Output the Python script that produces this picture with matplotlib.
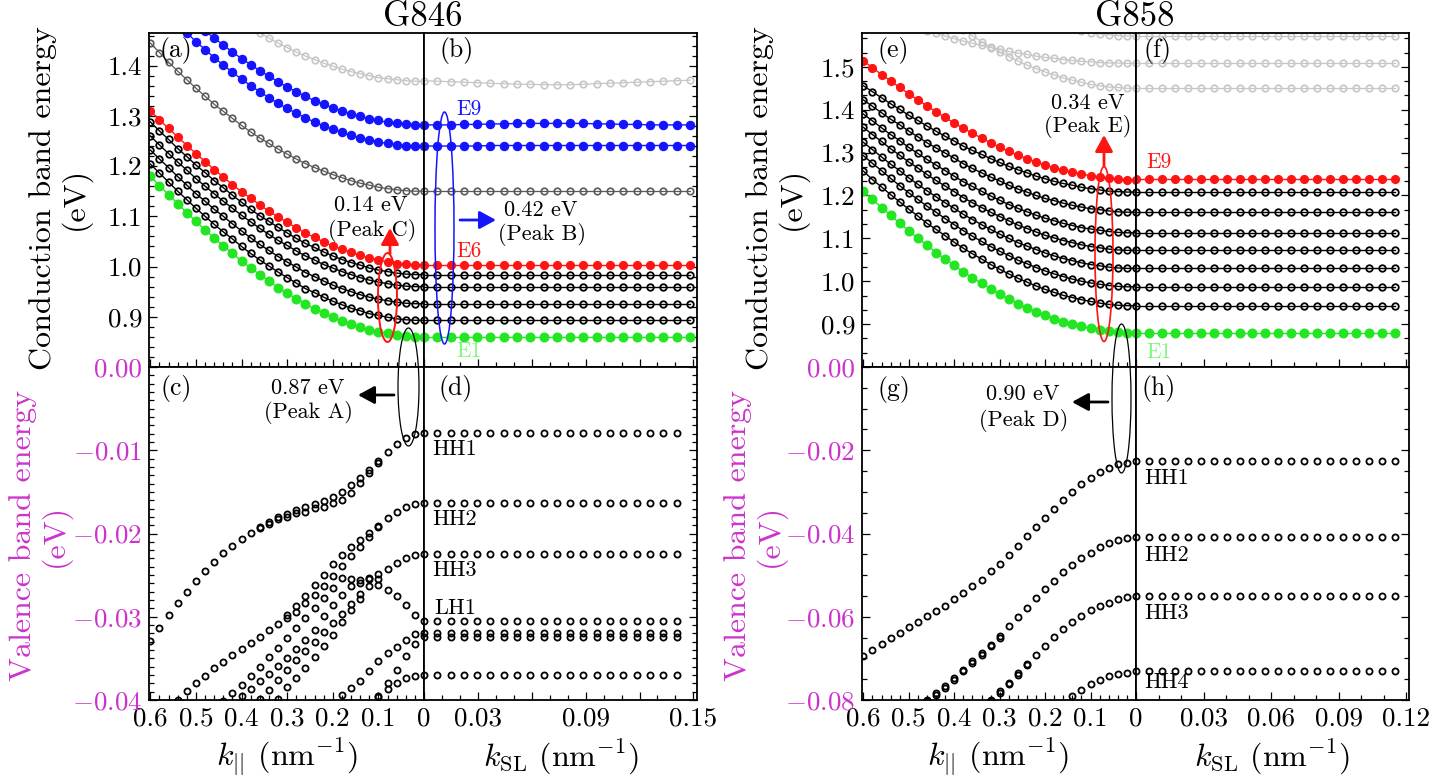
import matplotlib
matplotlib.use('Agg')
import matplotlib.pyplot as plt
from matplotlib.patches import Ellipse, FancyArrowPatch
from matplotlib.ticker import FixedLocator, MultipleLocator

nan = float('nan')
plt.rcParams['font.family'] = 'serif'
plt.rcParams['font.serif'] = ['cmr10']
plt.rcParams['mathtext.fontset'] = 'cm'
plt.rcParams['axes.unicode_minus'] = False

# ---------------- k grids ----------------
k_par = [0.00, 0.02, 0.04, 0.06, 0.08, 0.10, 0.12, 0.14, 0.16, 0.18, 0.20, 0.22, 0.24, 0.26, 0.28, 0.30,
         0.32, 0.34, 0.36, 0.38, 0.40, 0.42, 0.44, 0.46, 0.48, 0.50, 0.52, 0.54, 0.56, 0.58, 0.60]
k_sl_846 = [0.0, 0.0074, 0.0148, 0.0222, 0.0296, 0.037, 0.0444, 0.0518, 0.0592, 0.0666, 0.074, 0.0814,
            0.0888, 0.0962, 0.1036, 0.111, 0.1184, 0.1258, 0.1332, 0.1406, 0.148]
k_sl_846v = k_sl_846[:20]
k_sl_858 = [0.0, 0.00575, 0.0115, 0.01725, 0.023, 0.02875, 0.0345, 0.04025, 0.046, 0.05175, 0.0575,
            0.06325, 0.069, 0.07475, 0.0805, 0.08625, 0.092, 0.09775, 0.1035, 0.10925, 0.115]

# ---------------- G846 conduction, k_par ----------------
a_E1 = [0.860, 0.860, 0.861, 0.863, 0.867, 0.870, 0.874, 0.879, 0.885, 0.892, 0.899, 0.907, 0.916, 0.925, 0.936, 0.947,
        0.958, 0.971, 0.984, 0.997, 1.011, 1.026, 1.041, 1.057, 1.073, 1.090, 1.107, 1.125, 1.143, 1.161, 1.180]
a_E2 = [0.893, 0.893, 0.894, 0.896, 0.899, 0.903, 0.906, 0.912, 0.917, 0.924, 0.931, 0.939, 0.948, 0.956, 0.967, 0.978,
        0.989, 1.001, 1.013, 1.026, 1.040, 1.055, 1.069, 1.084, 1.100, 1.116, 1.133, 1.150, 1.168, 1.186, 1.204]
a_E3 = [0.926, 0.926, 0.927, 0.929, 0.932, 0.935, 0.939, 0.944, 0.950, 0.956, 0.963, 0.971, 0.980, 0.988, 0.999, 1.009,
        1.020, 1.032, 1.044, 1.057, 1.071, 1.085, 1.100, 1.114, 1.130, 1.145, 1.162, 1.179, 1.197, 1.214, 1.232]
a_E4 = [0.960, 0.960, 0.961, 0.963, 0.966, 0.969, 0.973, 0.978, 0.984, 0.990, 0.997, 1.004, 1.013, 1.021, 1.031, 1.042,
        1.052, 1.064, 1.076, 1.089, 1.102, 1.116, 1.130, 1.145, 1.160, 1.175, 1.192, 1.208, 1.225, 1.242, 1.260]
a_E5 = [0.984, 0.984, 0.985, 0.987, 0.990, 0.993, 0.997, 1.003, 1.008, 1.014, 1.021, 1.029, 1.038, 1.046, 1.056, 1.067,
        1.078, 1.090, 1.101, 1.114, 1.128, 1.142, 1.157, 1.171, 1.187, 1.202, 1.219, 1.235, 1.253, 1.270, 1.288]
a_E6 = [1.003, 1.003, 1.005, 1.006, 1.009, 1.013, 1.017, 1.022, 1.028, 1.034, 1.041, 1.049, 1.058, 1.067, 1.077, 1.088,
        1.099, 1.110, 1.123, 1.136, 1.149, 1.163, 1.178, 1.193, 1.209, 1.225, 1.241, 1.258, 1.275, 1.292, 1.310]
a_E7 = [1.150, 1.150, 1.151, 1.153, 1.155, 1.158, 1.162, 1.166, 1.171, 1.177, 1.183, 1.190, 1.197, 1.205, 1.214, 1.224,
        1.234, 1.245, 1.256, 1.268, 1.281, 1.295, 1.309, 1.323, 1.339, 1.355, 1.372, 1.389, 1.407, 1.426, 1.445]
a_E8 = [1.240, 1.240, 1.241, 1.243, 1.245, 1.248, 1.252, 1.256, 1.261, 1.267, 1.273, 1.280, 1.288, 1.296, 1.305, 1.315,
        1.325, 1.336, 1.348, 1.360, 1.373, 1.387, 1.401, 1.416, 1.432, 1.448, 1.465, 1.483, 1.501, 1.520, 1.540]
a_E9 = [1.282, 1.282, 1.283, 1.285, 1.287, 1.291, 1.294, 1.299, 1.304, 1.309, 1.316, 1.323, 1.330, 1.339, 1.348, 1.357,
        1.368, 1.379, 1.390, 1.402, 1.414, 1.427, 1.441, 1.455, 1.469, 1.484, 1.499, 1.515, 1.531, 1.548, 1.565]
a_E10 = [1.369, 1.369, 1.370, 1.372, 1.374, 1.376, 1.380, 1.384, 1.388, 1.393, 1.399, 1.405, 1.412, 1.419, 1.427, 1.436,
         1.445, 1.455, 1.465, 1.476, 1.488, 1.500, 1.513, 1.526, 1.540, 1.554, 1.570, 1.585, 1.602, 1.619, 1.636]

# ---------------- G846 conduction, k_SL ----------------
b_E1 = [0.860, 0.860, 0.860, 0.860, 0.860, 0.860, 0.860, 0.860, 0.860, 0.860, 0.860,
        0.860, 0.860, 0.860, 0.860, 0.860, 0.860, 0.860, 0.860, 0.860, 0.860]
b_E2 = [0.893, 0.893, 0.893, 0.893, 0.893, 0.893, 0.893, 0.893, 0.893, 0.893, 0.893,
        0.893, 0.893, 0.893, 0.893, 0.893, 0.893, 0.893, 0.893, 0.893, 0.893]
b_E3 = [0.926, 0.926, 0.926, 0.926, 0.926, 0.926, 0.926, 0.926, 0.926, 0.926, 0.926,
        0.926, 0.926, 0.926, 0.926, 0.926, 0.926, 0.926, 0.926, 0.926, 0.926]
b_E4 = [0.960, 0.960, 0.960, 0.960, 0.960, 0.960, 0.960, 0.960, 0.960, 0.960, 0.960,
        0.960, 0.960, 0.960, 0.960, 0.960, 0.960, 0.960, 0.960, 0.960, 0.960]
b_E5 = [0.984, 0.984, 0.984, 0.984, 0.984, 0.984, 0.984, 0.984, 0.984, 0.984, 0.984,
        0.984, 0.984, 0.984, 0.984, 0.984, 0.984, 0.984, 0.984, 0.984, 0.984]
b_E6 = [1.003, 1.003, 1.003, 1.003, 1.003, 1.003, 1.003, 1.003, 1.003, 1.003, 1.003,
        1.003, 1.003, 1.003, 1.003, 1.003, 1.003, 1.003, 1.003, 1.003, 1.003]
b_E7 = [1.150, 1.150, 1.150, 1.150, 1.150, 1.150, 1.150, 1.150, 1.150, 1.150, 1.150,
        1.150, 1.150, 1.150, 1.150, 1.150, 1.150, 1.150, 1.150, 1.150, 1.150]
b_E8 = [1.240, 1.240, 1.240, 1.240, 1.240, 1.241, 1.241, 1.241, 1.241, 1.241, 1.241,
        1.241, 1.241, 1.241, 1.241, 1.241, 1.241, 1.241, 1.241, 1.241, 1.241]
b_E9 = [1.282, 1.282, 1.282, 1.283, 1.283, 1.284, 1.284, 1.285, 1.285, 1.285, 1.285,
        1.285, 1.285, 1.284, 1.284, 1.283, 1.283, 1.282, 1.282, 1.282, 1.282]
b_E10 = [1.370, 1.369, 1.368, 1.367, 1.366, 1.365, 1.364, 1.363, 1.363, 1.362, 1.362,
         1.362, 1.363, 1.364, 1.365, 1.366, 1.367, 1.368, 1.369, 1.370, 1.371]

# ---------------- G846 valence, k_par ----------------
c_HH1a = [-0.00788, -0.00804, -0.00856, -0.00924, -0.01016, -0.01124, -0.01236, -0.01336, -0.01416, -0.01504,
          -0.01564, -0.01612, -0.01648, -0.01684, -0.01716, -0.01762, -0.01796, -0.01856, -0.01916, -0.01988,
          -0.02064, -0.02148, -0.02240, -0.02340, -0.02452, -0.02572, -0.02700, -0.02836, -0.02984, -0.03136, -0.03296]
c_HH1b = [nan, nan, nan, nan, nan, -0.01148, -0.01268, -0.01388, -0.01508, -0.01596, -0.01628, -0.01684, -0.01696,
          -0.01736, -0.01756, -0.01796, -0.01828, -0.01884, -0.01936, nan, nan, nan, nan, nan, nan, nan, nan, nan,
          nan, nan, nan]
c_HH2a = [-0.01628, -0.01644, -0.01676, -0.01736, -0.01816, -0.01908, -0.01996, -0.02084, -0.02164, -0.02256,
          -0.02364, -0.02496, -0.02624, -0.02748, -0.02876, -0.02984, -0.03084, -0.03164, -0.03244, -0.03316,
          -0.03388, -0.03464, -0.03548, -0.03620, -0.03708, -0.03796, -0.03896, -0.03996, nan, nan, nan]
c_HH2b = [nan, nan, nan, nan, nan, -0.01924, -0.02044, -0.02164, -0.02276, -0.02396, -0.02516, -0.02636, -0.02740,
          -0.02836, -0.02944, -0.03016, nan, nan, nan, nan, nan, nan, nan, nan, nan, nan, nan, nan, nan, nan, nan]
c_HH3 = [-0.02248, -0.02256, -0.02296, -0.02356, -0.02424, -0.02484, -0.02536, -0.02556, -0.02548, -0.02536,
         -0.02656, -0.02776, -0.02896, -0.03016, -0.03136, -0.03256, -0.03376, -0.03488, -0.03604, -0.03708,
         -0.03816, -0.03916, -0.04016, nan, nan, nan, nan, nan, nan, nan, nan]
c_LH1 = [-0.03048, -0.02976, -0.02856, -0.02756, -0.02676, -0.02616, -0.02636, -0.02724, -0.02844, -0.02964,
         -0.03076, -0.03188, -0.03304, -0.03416, -0.03524, -0.03636, -0.03764, -0.03884, -0.03988, nan, nan, nan,
         nan, nan, nan, nan, nan, nan, nan, nan, nan]
c_F1 = [nan, nan, nan, nan, nan, -0.02548, -0.02548, -0.02596, -0.02628, -0.02736, -0.02856, -0.02996, -0.03156,
        -0.03276, -0.03388, -0.03496, -0.03596, -0.03688, -0.03776, -0.03868, -0.03948, nan, nan, nan, nan, nan,
        nan, nan, nan, nan, nan]
c_F2 = [nan, nan, nan, nan, nan, nan, nan, -0.02788, -0.02924, -0.03068, -0.03216, -0.03356, -0.03488, -0.03616,
        -0.03736, -0.03848, -0.03988, nan, nan, nan, nan, nan, nan, nan, nan, nan, nan, nan, nan, nan, nan]
c_L1 = [-0.03196, -0.03208, -0.03276, -0.03368, -0.03436, -0.03536, -0.03656, -0.03776, -0.03856, -0.03940,
        nan, nan, nan, nan, nan, nan, nan, nan, nan, nan, nan, nan, nan, nan, nan, nan, nan, nan, nan, nan, nan]
c_L2 = [-0.03236, -0.03324, -0.03476, -0.03636, -0.03796, -0.03948, nan, nan, nan, nan, nan, nan, nan, nan, nan,
        nan, nan, nan, nan, nan, nan, nan, nan, nan, nan, nan, nan, nan, nan, nan, nan]
c_L3 = [-0.03696, -0.03708, -0.03736, -0.03796, -0.03868, -0.03968, nan, nan, nan, nan, nan, nan, nan, nan, nan,
        nan, nan, nan, nan, nan, nan, nan, nan, nan, nan, nan, nan, nan, nan, nan, nan]

# ---------------- G846 valence, k_SL (20 points) ----------------
d_HH1 = [-0.0079, -0.0079, -0.0079, -0.0079, -0.0079, -0.0079, -0.0079, -0.0079, -0.0079, -0.0079,
         -0.0079, -0.0079, -0.0079, -0.0079, -0.0079, -0.0079, -0.0079, -0.0079, -0.0079, -0.0079]
d_HH2 = [-0.0163, -0.0163, -0.0163, -0.0163, -0.0163, -0.0163, -0.0163, -0.0163, -0.0163, -0.0163,
         -0.0163, -0.0163, -0.0163, -0.0163, -0.0163, -0.0163, -0.0163, -0.0163, -0.0163, -0.0163]
d_HH3 = [-0.0225, -0.0225, -0.0225, -0.0225, -0.0225, -0.0225, -0.0225, -0.0225, -0.0225, -0.0225,
         -0.0225, -0.0225, -0.0225, -0.0225, -0.0225, -0.0225, -0.0225, -0.0225, -0.0225, -0.0225]
d_LH1 = [-0.0305, -0.0305, -0.0305, -0.0305, -0.0305, -0.0305, -0.0305, -0.0305, -0.0305, -0.0305,
         -0.0305, -0.0305, -0.0305, -0.0305, -0.0305, -0.0305, -0.0305, -0.0305, -0.0305, -0.0305]
d_L1 = [-0.0320, -0.0320, -0.0320, -0.0320, -0.0320, -0.0320, -0.0320, -0.0320, -0.0320, -0.0320,
        -0.0320, -0.0320, -0.0320, -0.0320, -0.0320, -0.0320, -0.0320, -0.0320, -0.0320, -0.0320]
d_L2 = [-0.0324, -0.0324, -0.0324, -0.0324, -0.0324, -0.0324, -0.0324, -0.0324, -0.0324, -0.0324,
        -0.0324, -0.0324, -0.0324, -0.0324, -0.0324, -0.0324, -0.0324, -0.0324, -0.0324, -0.0324]
d_L3 = [-0.0370, -0.0370, -0.0370, -0.0370, -0.0370, -0.0370, -0.0370, -0.0370, -0.0370, -0.0370,
        -0.0370, -0.0370, -0.0370, -0.0370, -0.0370, -0.0370, -0.0370, -0.0370, -0.0370, -0.0370]

# ---------------- G858 conduction, k_par ----------------
e_E1 = [0.880, 0.880, 0.882, 0.884, 0.887, 0.890, 0.895, 0.900, 0.906, 0.913, 0.921, 0.929, 0.938, 0.948, 0.959, 0.970,
        0.982, 0.995, 1.008, 1.022, 1.037, 1.052, 1.067, 1.084, 1.100, 1.118, 1.135, 1.154, 1.172, 1.191, 1.210]
e_E2 = [0.943, 0.943, 0.944, 0.946, 0.949, 0.953, 0.957, 0.962, 0.967, 0.974, 0.981, 0.989, 0.998, 1.007, 1.017, 1.028,
        1.039, 1.052, 1.064, 1.077, 1.091, 1.106, 1.121, 1.135, 1.152, 1.168, 1.185, 1.202, 1.220, 1.237, 1.257]
e_E3 = [0.987, 0.987, 0.988, 0.990, 0.993, 0.996, 1.000, 1.005, 1.011, 1.017, 1.024, 1.032, 1.041, 1.049, 1.060, 1.070,
        1.081, 1.093, 1.105, 1.118, 1.132, 1.146, 1.161, 1.175, 1.191, 1.206, 1.223, 1.240, 1.258, 1.275, 1.293]
e_E4 = [1.030, 1.030, 1.031, 1.033, 1.036, 1.039, 1.043, 1.048, 1.053, 1.059, 1.066, 1.074, 1.082, 1.090, 1.100, 1.110,
        1.121, 1.132, 1.144, 1.156, 1.170, 1.183, 1.197, 1.211, 1.226, 1.241, 1.258, 1.273, 1.290, 1.307, 1.324]
e_E5 = [1.072, 1.072, 1.073, 1.075, 1.078, 1.081, 1.085, 1.090, 1.095, 1.101, 1.107, 1.115, 1.123, 1.131, 1.141, 1.151,
        1.161, 1.172, 1.183, 1.195, 1.209, 1.222, 1.235, 1.249, 1.264, 1.278, 1.294, 1.309, 1.326, 1.342, 1.359]
e_E6 = [1.113, 1.113, 1.114, 1.116, 1.119, 1.122, 1.125, 1.130, 1.135, 1.141, 1.147, 1.154, 1.162, 1.170, 1.179, 1.189,
        1.199, 1.210, 1.221, 1.232, 1.245, 1.258, 1.271, 1.284, 1.298, 1.312, 1.328, 1.342, 1.358, 1.374, 1.390]
e_E7 = [1.161, 1.161, 1.162, 1.164, 1.167, 1.169, 1.173, 1.177, 1.182, 1.188, 1.193, 1.200, 1.208, 1.215, 1.224, 1.234,
        1.243, 1.253, 1.263, 1.274, 1.287, 1.299, 1.311, 1.323, 1.337, 1.350, 1.365, 1.378, 1.393, 1.408, 1.423]
e_E8 = [1.208, 1.208, 1.209, 1.210, 1.213, 1.216, 1.219, 1.224, 1.228, 1.233, 1.239, 1.245, 1.253, 1.260, 1.268, 1.277,
        1.286, 1.296, 1.305, 1.315, 1.327, 1.338, 1.350, 1.362, 1.375, 1.387, 1.401, 1.414, 1.428, 1.442, 1.456]
e_E9 = [1.237, 1.237, 1.238, 1.240, 1.243, 1.246, 1.250, 1.254, 1.259, 1.265, 1.271, 1.278, 1.286, 1.294, 1.303, 1.313,
        1.323, 1.334, 1.345, 1.357, 1.369, 1.382, 1.395, 1.409, 1.423, 1.437, 1.452, 1.467, 1.482, 1.498, 1.514]
e_E10 = [1.450, 1.450, 1.452, 1.453, 1.456, 1.459, 1.464, 1.469, 1.474, 1.481, 1.488, 1.496, 1.504, 1.514, 1.524,
         1.535, 1.547, 1.559, 1.572, 1.586, 1.601, 1.617, 1.633, 1.650, 1.668, 1.686, 1.705, 1.725, 1.746, 1.768, 1.790]
e_E11 = [1.508, 1.508, 1.509, 1.509, 1.510, 1.512, 1.513, 1.515, 1.517, 1.520, 1.522, 1.525, 1.529, 1.532, 1.536,
         1.541, 1.545, 1.550, 1.555, 1.560, 1.566, 1.572, 1.578, 1.584, 1.591, 1.598, 1.606, 1.613, 1.621, 1.629, 1.638]
e_E12 = [1.572, 1.572, 1.573, 1.575, 1.577, 1.580, 1.584, 1.588, 1.593, 1.599, 1.605, 1.612, 1.620, 1.628, 1.637,
         1.647, 1.657, 1.668, 1.680, 1.692, 1.705, 1.719, 1.733, 1.748, 1.764, 1.780, 1.797, 1.815, 1.833, 1.852, 1.872]

# ---------------- G858 conduction, k_SL ----------------
f_E1 = [0.880, 0.880, 0.880, 0.880, 0.880, 0.880, 0.880, 0.880, 0.880, 0.880, 0.880,
        0.880, 0.880, 0.880, 0.880, 0.880, 0.880, 0.880, 0.880, 0.880, 0.880]
f_E2 = [0.943, 0.943, 0.943, 0.943, 0.943, 0.943, 0.943, 0.943, 0.943, 0.943, 0.943,
        0.943, 0.943, 0.943, 0.943, 0.943, 0.943, 0.943, 0.943, 0.943, 0.943]
f_E3 = [0.987, 0.987, 0.987, 0.987, 0.987, 0.987, 0.987, 0.987, 0.987, 0.987, 0.987,
        0.987, 0.987, 0.987, 0.987, 0.987, 0.987, 0.987, 0.987, 0.987, 0.987]
f_E4 = [1.030, 1.030, 1.030, 1.030, 1.030, 1.030, 1.030, 1.030, 1.030, 1.030, 1.030,
        1.030, 1.030, 1.030, 1.030, 1.030, 1.030, 1.030, 1.030, 1.030, 1.030]
f_E5 = [1.072, 1.072, 1.072, 1.072, 1.072, 1.072, 1.072, 1.072, 1.072, 1.072, 1.072,
        1.072, 1.072, 1.072, 1.072, 1.072, 1.072, 1.072, 1.072, 1.072, 1.072]
f_E6 = [1.113, 1.113, 1.113, 1.113, 1.113, 1.113, 1.113, 1.113, 1.113, 1.113, 1.113,
        1.113, 1.113, 1.113, 1.113, 1.113, 1.113, 1.113, 1.113, 1.113, 1.113]
f_E7 = [1.161, 1.161, 1.161, 1.161, 1.161, 1.161, 1.161, 1.161, 1.161, 1.161, 1.161,
        1.161, 1.161, 1.161, 1.161, 1.161, 1.161, 1.161, 1.161, 1.161, 1.161]
f_E8 = [1.208, 1.208, 1.208, 1.208, 1.208, 1.208, 1.208, 1.208, 1.208, 1.208, 1.208,
        1.208, 1.208, 1.208, 1.208, 1.208, 1.208, 1.208, 1.208, 1.208, 1.208]
f_E9 = [1.238, 1.238, 1.238, 1.238, 1.238, 1.238, 1.238, 1.238, 1.238, 1.238, 1.238,
        1.238, 1.238, 1.238, 1.238, 1.238, 1.238, 1.238, 1.238, 1.238, 1.238]
f_E10 = [1.450, 1.450, 1.450, 1.450, 1.450, 1.450, 1.450, 1.450, 1.450, 1.450, 1.450,
         1.450, 1.450, 1.450, 1.450, 1.450, 1.450, 1.450, 1.450, 1.450, 1.450]
f_E11 = [1.508, 1.508, 1.508, 1.508, 1.508, 1.508, 1.508, 1.508, 1.508, 1.508, 1.508,
         1.508, 1.508, 1.508, 1.508, 1.508, 1.508, 1.508, 1.508, 1.508, 1.508]
f_E12 = [1.572, 1.572, 1.572, 1.572, 1.572, 1.572, 1.572, 1.572, 1.572, 1.572, 1.572,
         1.572, 1.572, 1.572, 1.572, 1.572, 1.572, 1.572, 1.572, 1.572, 1.572]

# ---------------- G858 valence, k_par ----------------
g_HH1 = [-0.0227, -0.0230, -0.0234, -0.0242, -0.0253, -0.0266, -0.0282, -0.0300, -0.0319, -0.0340, -0.0362,
         -0.0385, -0.0407, -0.0430, -0.0451, -0.0473, -0.0491, -0.0511, -0.0527, -0.0543, -0.0558, -0.0573,
         -0.0587, -0.0599, -0.0613, -0.0625, -0.0638, -0.0651, -0.0666, -0.0679, -0.0694]
g_HH2 = [-0.0409, -0.0411, -0.0415, -0.0422, -0.0433, -0.0446, -0.0459, -0.0475, -0.0493, -0.0513, -0.0534,
         -0.0555, -0.0578, -0.0601, -0.0623, -0.0646, -0.0667, -0.0687, -0.0707, -0.0727, -0.0747, -0.0767,
         -0.0783, -0.0799, nan, nan, nan, nan, nan, nan, nan]
g_HH2b = [nan, nan, nan, nan, nan, nan, nan, nan, nan, nan, nan, nan, nan, nan, nan, -0.0650, -0.0671, -0.0691,
          -0.0711, -0.0731, -0.0751, -0.0771, -0.0787, -0.0803, nan, nan, nan, nan, nan, nan, nan]
g_HH3 = [-0.0551, -0.0553, -0.0558, -0.0566, -0.0574, -0.0583, -0.0598, -0.0613, -0.0630, -0.0649, -0.0670,
         -0.0691, -0.0713, -0.0735, -0.0758, -0.0779, -0.0799, nan, nan, nan, nan, nan, nan, nan, nan, nan, nan,
         nan, nan, nan, nan]
g_HH3b = [nan, nan, nan, nan, nan, nan, nan, nan, nan, nan, nan, nan, -0.0717, -0.0739, -0.0762, -0.0783,
          -0.0803, nan, nan, nan, nan, nan, nan, nan, nan, nan, nan, nan, nan, nan, nan]
g_HH4 = [-0.0731, -0.0734, -0.0737, -0.0743, -0.0751, -0.0761, -0.0775, -0.0790, nan, nan, nan, nan, nan, nan,
         nan, nan, nan, nan, nan, nan, nan, nan, nan, nan, nan, nan, nan, nan, nan, nan, nan]

# ---------------- G858 valence, k_SL ----------------
h_HH1 = [-0.0227, -0.0227, -0.0227, -0.0227, -0.0227, -0.0227, -0.0227, -0.0227, -0.0227, -0.0227, -0.0227,
         -0.0227, -0.0227, -0.0227, -0.0227, -0.0227, -0.0227, -0.0227, -0.0227, -0.0227, -0.0227]
h_HH2 = [-0.0409, -0.0409, -0.0409, -0.0409, -0.0409, -0.0409, -0.0409, -0.0409, -0.0409, -0.0409, -0.0409,
         -0.0409, -0.0409, -0.0409, -0.0409, -0.0409, -0.0409, -0.0409, -0.0409, -0.0409, -0.0409]
h_HH3 = [-0.0551, -0.0551, -0.0551, -0.0551, -0.0551, -0.0551, -0.0551, -0.0551, -0.0551, -0.0551, -0.0551,
         -0.0551, -0.0551, -0.0551, -0.0551, -0.0551, -0.0551, -0.0551, -0.0551, -0.0551, -0.0551]
h_HH4 = [-0.0731, -0.0731, -0.0731, -0.0731, -0.0731, -0.0731, -0.0731, -0.0731, -0.0731, -0.0731, -0.0731,
         -0.0731, -0.0731, -0.0731, -0.0731, -0.0731, -0.0731, -0.0731, -0.0731, -0.0731, -0.0731]

# ---------------- styles ----------------
GREEN = '#22e622'
RED = '#ff1414'
BLUE = '#1414ff'
DGRAY = '#595959'
LGRAY = '#c6c6c6'
MAG = '#cc33cc'
STY = {
    'green': dict(color=GREEN, marker='o', ms=6.2, mfc=GREEN, mec=GREEN, lw=1.0),
    'red': dict(color=RED, marker='o', ms=5.6, mfc=RED, mec=RED, lw=1.0),
    'blue': dict(color=BLUE, marker='o', ms=5.8, mfc=BLUE, mec=BLUE, lw=1.0),
    'black': dict(color='k', marker='o', ms=4.7, mfc='none', mec='k', mew=1.3, lw=1.0),
    'dgray': dict(color=DGRAY, marker='o', ms=4.7, mfc='none', mec=DGRAY, mew=1.2, lw=0.9),
    'lgray': dict(color=LGRAY, marker='o', ms=4.7, mfc='none', mec=LGRAY, mew=1.2, lw=0.9),
}
VSTY = dict(ls='none', marker='o', ms=4.4, mfc='none', mec='k', mew=1.3)

W, H = 1434, 775
fig = plt.figure(figsize=(W / 100, H / 100), dpi=100)


def P(x, y):
    return (x / W, 1 - y / H)


def add_ax(x0, y0, x1, y1):
    return fig.add_axes([x0 / W, 1 - y1 / H, (x1 - x0) / W, (y1 - y0) / H])


def setup(ax, right, xlim, xmaj, xminor, xlabels, ylim, ymaj, yminor, ylabels, ycol):
    ax.set_xlim(*xlim)
    ax.set_ylim(*ylim)
    ax.xaxis.set_major_locator(FixedLocator(xmaj))
    ax.xaxis.set_minor_locator(MultipleLocator(xminor))
    ax.yaxis.set_major_locator(FixedLocator(ymaj))
    ax.yaxis.set_minor_locator(MultipleLocator(yminor))
    ax.tick_params(which='both', direction='in', top=False, bottom=True,
                   left=not right, right=right, labelleft=False, labelright=False,
                   labelbottom=xlabels is not None, width=0.9, labelsize=19.5, pad=5)
    ax.tick_params(which='major', length=6)
    ax.tick_params(which='minor', length=3.5)
    if xlabels is not None:
        ax.set_xticklabels(xlabels)
    if ylabels is not None:
        ax.tick_params(labelleft=True)
        ax.set_yticklabels(ylabels)
        for t in ax.get_yticklabels():
            t.set_color(ycol)
    for s in ax.spines.values():
        s.set_linewidth(1.3)


kpar_ticks = [0.6, 0.5, 0.4, 0.3, 0.2, 0.1, 0.0]
kpar_labels = ['0.6', '0.5', '0.4', '0.3', '0.2', '0.1', '0']

axA = add_ax(149, 33, 424, 367)
axB = add_ax(424, 33, 697, 367)
axC = add_ax(149, 367, 424, 700)
axD = add_ax(424, 367, 697, 700)
axE = add_ax(862, 33, 1136, 367)
axF = add_ax(1136, 33, 1409, 367)
axG = add_ax(862, 367, 1136, 700)
axH = add_ax(1136, 367, 1409, 700)

yA = [0.9, 1.0, 1.1, 1.2, 1.3, 1.4]
setup(axA, False, (0.603, 0), kpar_ticks, 0.02, None, (0.8, 1.465), yA, 0.02,
      ['0.9', '1.0', '1.1', '1.2', '1.3', '1.4'], 'k')
setup(axB, True, (0, 0.152), [0, 0.03, 0.06, 0.09, 0.12, 0.15], 0.01, None, (0.8, 1.465), yA, 0.02, None, 'k')
yC = [0.0, -0.01, -0.02, -0.03, -0.04]
setup(axC, False, (0.603, 0), kpar_ticks, 0.02, kpar_labels, (-0.04, 0.0), yC, 0.001,
      ['0.00', r'$-0.01$', r'$-0.02$', r'$-0.03$', r'$-0.04$'], MAG)
setup(axD, True, (0, 0.152), [0, 0.03, 0.06, 0.09, 0.12, 0.15], 0.01, ['', '0.03', '', '0.09', '', '0.15'],
      (-0.04, 0.0), yC, 0.001, None, 'k')
yE = [0.9, 1.0, 1.1, 1.2, 1.3, 1.4, 1.5]
setup(axE, False, (0.603, 0), kpar_ticks, 0.02, None, (0.8, 1.579), yE, 0.1 / 3,
      ['0.9', '1.0', '1.1', '1.2', '1.3', '1.4', '1.5'], 'k')
setup(axF, True, (0, 0.1213), [0, 0.03, 0.06, 0.09, 0.12], 0.01, None, (0.8, 1.579), yE, 0.1 / 3, None, 'k')
yG = [0.0, -0.02, -0.04, -0.06, -0.08]
setup(axG, False, (0.603, 0), kpar_ticks, 0.02, kpar_labels, (-0.08, 0.0), yG, 0.005,
      ['0.00', r'$-0.02$', r'$-0.04$', r'$-0.06$', r'$-0.08$'], MAG)
setup(axH, True, (0, 0.1213), [0, 0.03, 0.06, 0.09, 0.12], 0.01, ['', '0.03', '0.06', '0.09', '0.12'],
      (-0.08, 0.0), yG, 0.005, None, 'k')

# ---------------- draw bands ----------------
for E, s in [(a_E10, 'lgray'), (a_E7, 'dgray'), (a_E2, 'black'), (a_E3, 'black'), (a_E4, 'black'),
             (a_E5, 'black'), (a_E1, 'green'), (a_E6, 'red'), (a_E8, 'blue'), (a_E9, 'blue')]:
    axA.plot(k_par, E, **STY[s])
for E, s in [(b_E10, 'lgray'), (b_E7, 'dgray'), (b_E2, 'black'), (b_E3, 'black'), (b_E4, 'black'),
             (b_E5, 'black'), (b_E1, 'green'), (b_E6, 'red'), (b_E8, 'blue'), (b_E9, 'blue')]:
    axB.plot(k_sl_846, E, **STY[s])
for E in [c_HH1a, c_HH1b, c_HH2a, c_HH2b, c_HH3, c_LH1, c_F1, c_F2, c_L1, c_L2, c_L3]:
    axC.plot(k_par, E, **VSTY)
for E in [d_HH1, d_HH2, d_HH3, d_LH1, d_L1, d_L2, d_L3]:
    axD.plot(k_sl_846v, E, **VSTY)
for E, s in [(e_E10, 'lgray'), (e_E11, 'lgray'), (e_E12, 'lgray'), (e_E2, 'black'), (e_E3, 'black'),
             (e_E4, 'black'), (e_E5, 'black'), (e_E6, 'black'), (e_E7, 'black'), (e_E8, 'black'),
             (e_E1, 'green'), (e_E9, 'red')]:
    axE.plot(k_par, E, **STY[s])
for E, s in [(f_E10, 'lgray'), (f_E11, 'lgray'), (f_E12, 'lgray'), (f_E2, 'black'), (f_E3, 'black'),
             (f_E4, 'black'), (f_E5, 'black'), (f_E6, 'black'), (f_E7, 'black'), (f_E8, 'black'),
             (f_E1, 'green'), (f_E9, 'red')]:
    axF.plot(k_sl_858, E, **STY[s])
for E in [g_HH1, g_HH2, g_HH2b, g_HH3, g_HH3b, g_HH4]:
    axG.plot(k_par, E, **VSTY)
for E in [h_HH1, h_HH2, h_HH3, h_HH4]:
    axH.plot(k_sl_858, E, **VSTY)

# ---------------- texts ----------------
fig.text(*P(423, 17), 'G846', ha='center', va='center', fontsize=25)
fig.text(*P(1135, 17), 'G858', ha='center', va='center', fontsize=25)
for lab, x, y in [('(a)', 176, 51), ('(b)', 457, 50), ('(c)', 176, 389), ('(d)', 456, 389),
                  ('(e)', 893, 50), ('(f)', 1157, 50), ('(g)', 894, 390), ('(h)', 1159, 389)]:
    fig.text(*P(x, y), lab, ha='center', va='center', fontsize=18.5)

for x, y, txt, col in [(60, 198, 'Conduction band energy\n(eV)', 'k'), (40, 535, 'Valence band energy\n(eV)', MAG),
                       (777, 198, 'Conduction band energy\n(eV)', 'k'), (755, 535, 'Valence band energy\n(eV)', MAG)]:
    fig.text(*P(x, y), txt, rotation=90, ha='center', va='center', fontsize=23, color=col,
             linespacing=1.1, multialignment='center')

for x, txt in [(287, r'$k_{||}$ (nm$^{-1}$)'), (561, r'$k_{\rm SL}$ (nm$^{-1}$)'),
               (998, r'$k_{||}$ (nm$^{-1}$)'), (1272, r'$k_{\rm SL}$ (nm$^{-1}$)')]:
    fig.text(*P(x, 757), txt, ha='center', va='center', fontsize=23)

for x, y, txt in [(371, 205, '0.14 eV'), (372, 231, '(Peak C)'), (541, 210, '0.42 eV'), (542, 235, '(Peak B)'),
                  (308, 388, '0.87 eV'), (308, 412, '(Peak A)'), (1088, 103, '0.34 eV'), (1088, 127, '(Peak E)'),
                  (1023, 394, '0.90 eV'), (1024, 420, '(Peak D)')]:
    fig.text(*P(x, y), txt, ha='center', va='center', fontsize=16)

for x, y, txt, col in [(469, 109, 'E9', BLUE), (469, 251, 'E6', RED), (469, 351, 'E1', '#7cf77c'),
                       (1159, 162, 'E9', RED), (1159, 352, 'E1', '#7cf77c')]:
    fig.text(*P(x, y), txt, ha='center', va='center', fontsize=15.5, color=col)

for x, y, txt in [(455, 449, 'HH1'), (455, 519, 'HH2'), (455, 570, 'HH3'), (455, 608, 'LH1'),
                  (1167, 478, 'HH1'), (1167, 555, 'HH2'), (1167, 613, 'HH3'), (1167, 682, 'HH4')]:
    fig.text(*P(x, y), txt, ha='center', va='center', fontsize=16)

# ---------------- ellipses & arrows ----------------
for cx, cy, w, h, col, lw in [(387.5, 297.5, 19, 89, RED, 1.4), (444.5, 228, 19, 232, BLUE, 1.1),
                              (408.5, 387, 21, 118, 'k', 0.9), (1104, 254, 18, 175, RED, 1.2),
                              (1121.5, 398.5, 19, 149, 'k', 0.9)]:
    fig.add_artist(Ellipse(P(cx, cy), w / W, h / H, transform=fig.transFigure, fill=False, ec=col, lw=lw))

for x0, y0, x1, y1, col in [(390, 254, 390, 228, RED), (460, 220, 496, 220, BLUE), (394, 395, 358, 395, 'k'),
                            (1104, 166, 1104, 135, RED), (1108, 402, 1072, 402, 'k')]:
    fig.add_artist(FancyArrowPatch(P(x0, y0), P(x1, y1), transform=fig.transFigure,
                                   arrowstyle='-|>,head_length=0.55,head_width=0.3', mutation_scale=18,
                                   lw=2.0, color=col, shrinkA=0, shrinkB=0))

fig.savefig('out.png', dpi=100)
